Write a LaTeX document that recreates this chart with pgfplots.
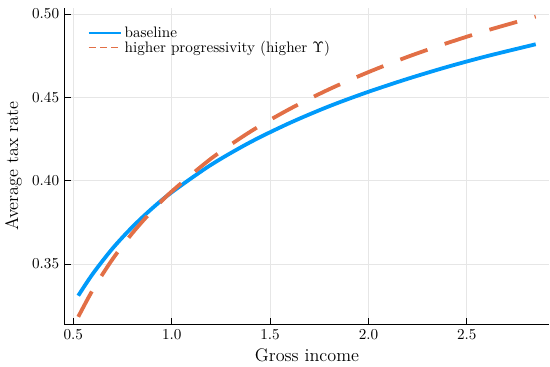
\documentclass[border=0pt]{standalone}
\usepackage{pgfplots}
\pgfplotsset{compat=1.18}
\definecolor{jblue}{HTML}{009AFA}
\definecolor{jorange}{HTML}{E26F46}
\definecolor{gridgray}{HTML}{E6E6E6}
\begin{document}
\begin{tikzpicture}
\begin{axis}[
  scale only axis,
  width=320pt, height=209pt,
  xmin=0.455, xmax=2.92,
  ymin=0.3138, ymax=0.5038,
  axis x line*=bottom, axis y line*=left,
  axis line style={black, line width=0.7pt},
  xtick={0.5,1.0,1.5,2.0,2.5},
  ytick={0.35,0.40,0.45,0.50},
  xticklabels={0.5,1.0,1.5,2.0,2.5},
  yticklabels={0.35,0.40,0.45,0.50},
  tick align=inside,
  major tick length=4pt,
  tick style={black, line width=0.5pt},
  grid=major,
  major grid style={gridgray, line width=0.5pt},
  xlabel={\large Gross income},
  ylabel={\large Average tax rate},
  xlabel style={yshift=1.5pt},
  ylabel style={yshift=0pt},
  legend style={draw=none, fill=none, at={(0.045,0.955)}, anchor=north west,
    font=\normalsize, row sep=-3pt, inner sep=1pt},
  legend cell align=left,
  clip=false,
]
% a little room above the plot area
\path (rel axis cs:0,1) ++(0pt,5pt);
\addplot[jblue, line width=2.5pt, smooth,
  legend image code/.code={\draw[jblue, line width=0.8pt] (0cm,0cm) -- (0.75cm,0cm);}]
  coordinates {
  (0.525,0.3310) (0.60,0.3443) (0.70,0.3594) (0.80,0.3722) (0.90,0.3833)
  (1.00,0.3930) (1.20,0.4095) (1.40,0.4231) (1.60,0.4346) (1.80,0.4446)
  (2.00,0.4533) (2.20,0.4611) (2.40,0.4682) (2.60,0.4746) (2.85,0.4818)
  };
\addlegendentry{baseline}
\addplot[jorange, line width=2.5pt, smooth, dash pattern=on 19pt off 12pt,
  legend image code/.code={\draw[jorange, line width=0.8pt, dash pattern=on 4.5pt off 3pt] (0cm,0cm) -- (0.75cm,0cm);}]
  coordinates {
  (0.525,0.3183) (0.60,0.3347) (0.70,0.3530) (0.80,0.3685) (0.90,0.3818)
  (1.00,0.3935) (1.20,0.4132) (1.40,0.4294) (1.60,0.4430) (1.80,0.4548)
  (2.00,0.4651) (2.20,0.4743) (2.40,0.4825) (2.60,0.4900) (2.85,0.4984)
  };
\addlegendentry{higher progressivity (higher $\Upsilon$)}
\end{axis}
\end{tikzpicture}
\end{document}
